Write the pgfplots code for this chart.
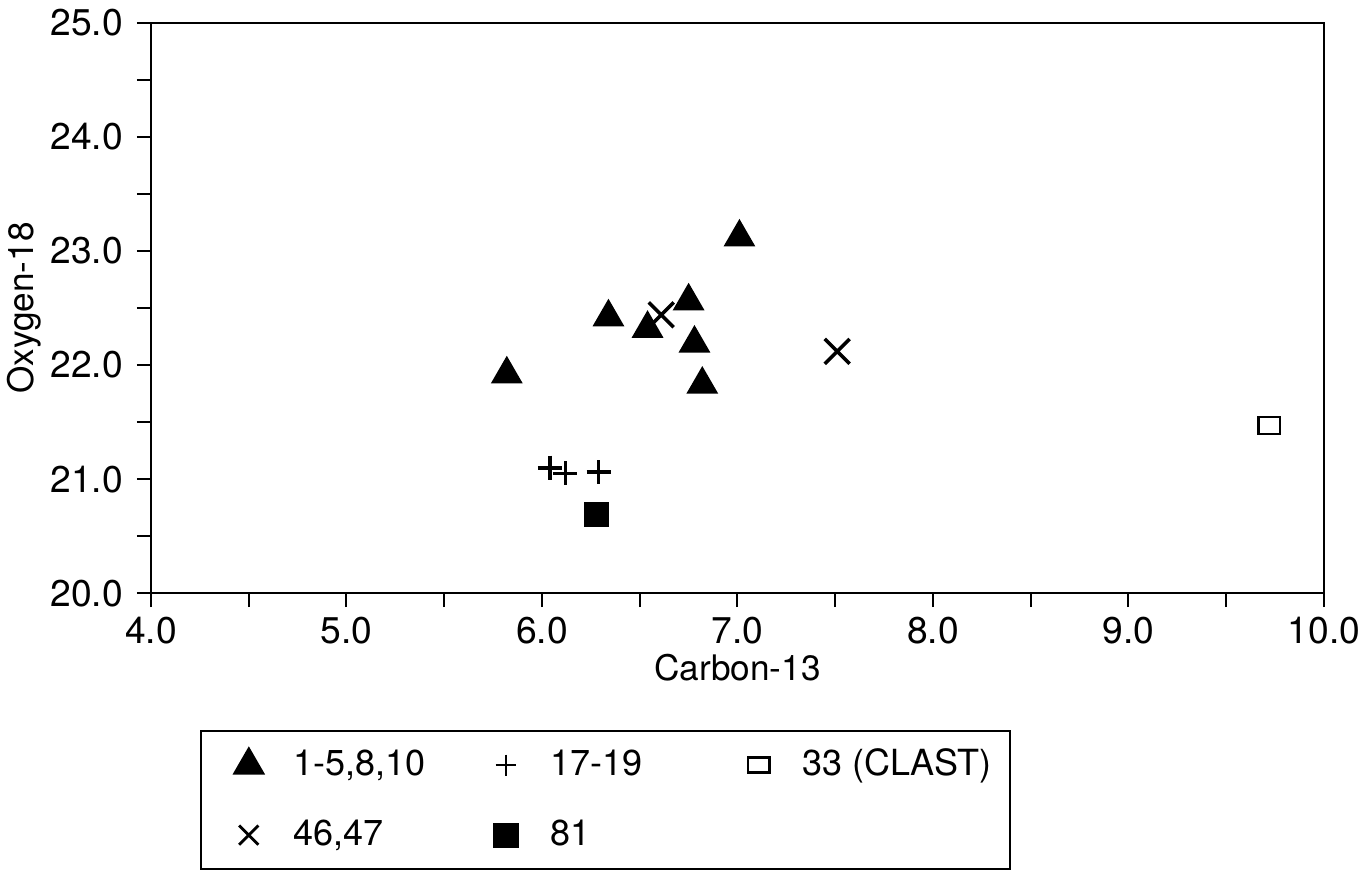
\documentclass[border=0pt]{standalone}
\usepackage{fontspec}
\setmainfont{TeX Gyre Heros}
\usepackage{pgfplots}
\pgfplotsset{compat=1.18}
\pgfplotsset{ptleg/.style={legend image code/.code={\path (-4.5pt,0pt) (4.5pt,0pt);\draw[##1,#1] plot coordinates {(0pt,0pt)};}},ptleg/.default={}}
\begin{document}
\begin{tikzpicture}
\begin{axis}[
  scale only axis,
  width=293.25pt,height=142.6pt,
  xmin=4,xmax=10,ymin=20,ymax=25,
  xtick={4,5,...,10},ytick={20,21,...,25},
  minor tick num=1,
  tick align=outside,
  xtick pos=bottom,ytick pos=left,
  major tick length=3.5pt,minor tick length=3.5pt,
  axis line style={line width=0.5pt},
  tick style={black,line width=0.5pt},
  /pgf/number format/assume math mode=true,
  /pgf/number format/fixed,/pgf/number format/fixed zerofill,/pgf/number format/precision=1,
  tick label style={font=\fontsize{9.3}{10}\selectfont},
  xticklabel style={yshift=1pt},
  xlabel={Carbon-13},ylabel={Oxygen-18},
  label style={font=\fontsize{8.8}{10}\selectfont},
  xlabel style={at={(axis description cs:0.5,-0.13)},anchor=center},
  ylabel style={at={(axis description cs:-0.108,0.5)},anchor=center},
  legend columns=3,
  legend style={at={(axis description cs:0.0418,-0.240)},anchor=north west,
    draw=black,line width=0.5pt,font=\fontsize{9}{10}\selectfont,
    inner xsep=7pt,inner ysep=4pt,
    nodes={inner ysep=0pt,text height=7pt,text depth=2pt},
    /tikz/every odd column/.append style={column sep=4.1pt},
    row sep=8.5pt},
  legend cell align=left,
]
\addplot[only marks,mark=triangle*,mark size=4.2pt,black,ptleg] coordinates {
  (5.82,21.92) (7.01,23.12) (6.34,22.42) (6.54,22.32) (6.75,22.56) (6.78,22.19) (6.82,21.83)};
\addlegendentry{\makebox[46.3pt][l]{1-5,8,10}}
\addplot[only marks,mark=+,mark size=3pt,black,line width=0.9pt,ptleg={line width=0.6pt,mark size=2.6pt}] coordinates {
  (6.04,21.10) (6.12,21.05) (6.29,21.06)};
\addlegendentry{\makebox[45.3pt][l]{17-19}}
\addplot[only marks,mark=square,mark size=2.7pt,black,line width=0.6pt,mark options={yscale=0.8},ptleg={mark options={yscale=0.7}}] coordinates {
  (9.72,21.47)};
\addlegendentry{\makebox[43pt][l]{33 (CLAST)}}
\addplot[only marks,mark=x,mark size=4.4pt,black,line width=0.9pt,ptleg={mark size=3.4pt,line width=0.7pt}] coordinates {
  (6.61,22.44) (7.51,22.12)};
\addlegendentry{46,47}
\addplot[only marks,mark=square*,mark size=2.9pt,black,ptleg] coordinates {
  (6.28,20.69)};
\addlegendentry{81}
\end{axis}
\pgfresetboundingbox
\path (-37.75pt,-69.2pt) rectangle (302.75pt,148.3pt);
\end{tikzpicture}
\end{document}
